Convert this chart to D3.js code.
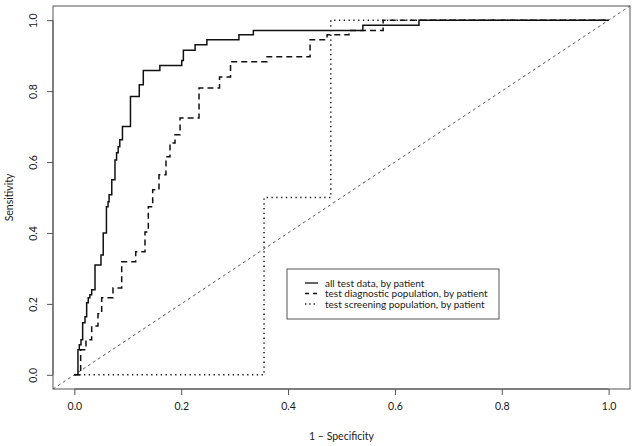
<!DOCTYPE html>
<html>
<head>
<meta charset="utf-8">
<script src="https://cdn.jsdelivr.net/npm/d3@7"></script>
<style>
  body { margin: 0; background: #fff; }
  svg text { font-family: Lato, "Open Sans", sans-serif; fill: #1a1a1a; }
</style>
</head>
<body>
<svg id="chart" width="637" height="446"></svg>
<script>
// ROC step points: false positive rate where each step up happens, and sensitivity after it
var allFpr = [0, 0.0067, 0.0092, 0.0124, 0.0155, 0.0199, 0.023, 0.026, 0.029, 0.0324, 0.0386, 0.0498, 0.054, 0.060, 0.063, 0.065, 0.070, 0.076, 0.079, 0.082, 0.085, 0.090, 0.105, 0.1215, 0.129, 0.160, 0.201, 0.204, 0.226, 0.248, 0.308, 0.335, 0.540, 0.645, 1.0];
var allTpr = [0, 0.0705, 0.0846, 0.0987, 0.1466, 0.1636, 0.203, 0.217, 0.2256, 0.24, 0.31, 0.338, 0.40, 0.474, 0.488, 0.508, 0.55, 0.606, 0.626, 0.643, 0.663, 0.70, 0.785, 0.818, 0.858, 0.872, 0.886, 0.915, 0.931, 0.945, 0.959, 0.971, 0.986, 1.0, 1.0];

var diagFpr = [0, 0.0118, 0.0217, 0.0324, 0.0442, 0.0511, 0.0723, 0.0886, 0.1148, 0.1322, 0.1384, 0.1466, 0.1584, 0.1715, 0.179, 0.1884, 0.1978, 0.2333, 0.2717, 0.2923, 0.3607, 0.4412, 0.473, 0.514, 0.578, 1.0];
var diagTpr = [0, 0.0705, 0.0987, 0.138, 0.172, 0.217, 0.245, 0.319, 0.347, 0.403, 0.474, 0.522, 0.564, 0.615, 0.654, 0.677, 0.724, 0.809, 0.840, 0.883, 0.897, 0.945, 0.959, 0.971, 1.0, 1.0];

var screenFpr = [0, 0.355, 0.48, 1.0];
var screenTpr = [0, 0.5, 1.0, 1.0];

var ticks = [0, 0.2, 0.4, 0.6, 0.8, 1.0];
var legendLabels = ["all test data, by patient", "test diagnostic population, by patient", "test screening population, by patient"];

var svg = d3.select("#chart");

var box = { left: 53, right: 630, top: 6, bottom: 389 };

var x = d3.scaleLinear().domain([-0.04, 1.04]).range([box.left, box.right]);
var y = d3.scaleLinear().domain([-0.04, 1.04]).range([box.bottom, box.top]);

function pts(xs, ys) {
    return xs.map(function(v, i) { return [v, ys[i]]; });
}

var step = d3.line()
    .x(function(d) { return x(d[0]); })
    .y(function(d) { return y(d[1]); })
    .curve(d3.curveStepAfter);

// chance line across the whole plot region
svg.append("line")
    .attr("x1", x(-0.04)).attr("y1", y(-0.04))
    .attr("x2", x(1.04)).attr("y2", y(1.04))
    .style("stroke", "#333")
    .style("stroke-width", 0.8)
    .style("stroke-dasharray", "3,3");

var series = [
    { data: pts(allFpr, allTpr), dash: null },
    { data: pts(diagFpr, diagTpr), dash: "6,4" },
    { data: pts(screenFpr, screenTpr), dash: "1.3,3.5" }
];

series.forEach(function(s) {
    svg.append("path")
        .attr("d", step(s.data))
        .style("fill", "none")
        .style("stroke", "#111")
        .style("stroke-width", 1.5)
        .style("stroke-dasharray", s.dash);
});

// plot box
svg.append("rect")
    .attr("x", box.left).attr("y", box.top)
    .attr("width", box.right - box.left).attr("height", box.bottom - box.top)
    .style("fill", "none")
    .style("stroke", "#555")
    .style("stroke-width", 1);

// axes
var xAxis = svg.append("g")
    .attr("transform", "translate(0," + box.bottom + ")")
    .call(d3.axisBottom(x).tickValues(ticks).tickFormat(d3.format(".1f")).tickSize(6).tickPadding(8));
xAxis.select(".domain").attr("d", "M" + x(0) + ",0H" + x(1));

var yAxis = svg.append("g")
    .attr("transform", "translate(" + box.left + ",0)")
    .call(d3.axisLeft(y).tickValues(ticks).tickFormat(d3.format(".1f")).tickSize(6));
yAxis.select(".domain").attr("d", "M0," + y(0) + "V" + y(1));
yAxis.selectAll(".tick text")
    .attr("x", 0).attr("dy", 0)
    .attr("transform", "translate(-19,0) rotate(-90)")
    .style("text-anchor", "middle")
    .attr("dominant-baseline", "middle");

svg.selectAll(".tick line, .domain").style("stroke", "#555");
svg.selectAll(".tick text").style("font-size", "10.5px").style("fill", "#1a1a1a").style("font-family", "Lato, sans-serif");

// axis titles
svg.append("text")
    .attr("x", (box.left + box.right) / 2)
    .attr("y", 440)
    .style("text-anchor", "middle")
    .style("font-size", "10.5px")
    .text("1 \u2013 Specificity");

svg.append("text")
    .attr("transform", "translate(13," + ((box.top + box.bottom) / 2) + ") rotate(-90)")
    .style("text-anchor", "middle")
    .style("font-size", "10.5px")
    .text("Sensitivity");

// legend
var legend = svg.append("g").attr("transform", "translate(287,269)");
legend.append("rect")
    .attr("width", 212).attr("height", 50)
    .style("fill", "#fff")
    .style("stroke", "#555");

var legendDash = [null, "4,4", "1.3,3"];
legendLabels.forEach(function(label, i) {
    var ly = 14 + i * 10.5;
    legend.append("line")
        .attr("x1", 18).attr("x2", 31)
        .attr("y1", ly).attr("y2", ly)
        .style("stroke", "#111")
        .style("stroke-width", 1.3)
        .style("stroke-dasharray", legendDash[i]);
    legend.append("text")
        .attr("x", 38).attr("y", ly)
        .attr("dy", "0.35em")
        .style("font-size", "10px")
        .text(label);
});
</script>
</body>
</html>
